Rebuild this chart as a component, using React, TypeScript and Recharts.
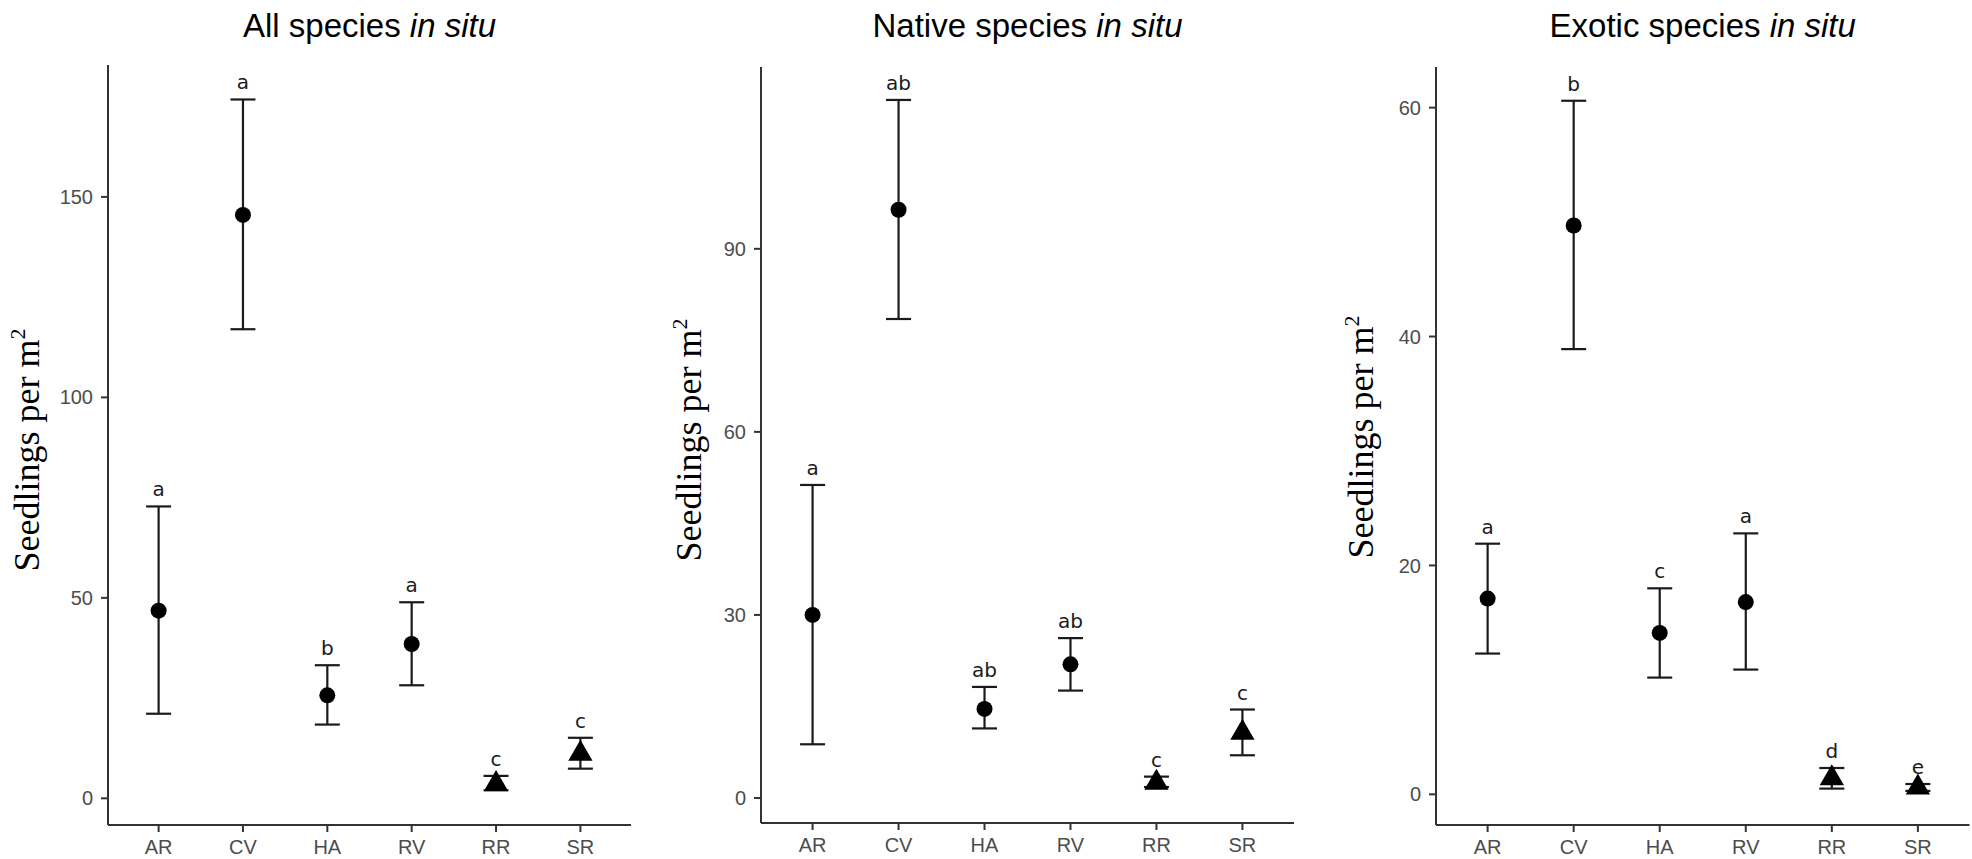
import { ScatterChart, Scatter, XAxis, YAxis, ErrorBar } from 'recharts';

const SITES = ['AR', 'CV', 'HA', 'RV', 'RR', 'SR'];
const TRIANGLE_SITES = ['RR', 'SR'];
const SITE_POS = [1, 2, 3, 4, 5, 6];

// All species
const ALL_MEAN = [46.8, 145.5, 25.7, 38.5, 3.6, 11.1];
const ALL_LOWER = [21.1, 117.0, 18.4, 28.2, 2.0, 7.4];
const ALL_UPPER = [72.8, 174.3, 33.2, 48.9, 5.6, 15.1];
const ALL_LETTERS = ['a', 'a', 'b', 'a', 'c', 'c'];
const ALL_TICKS = [0, 50, 100, 150];

// Native species
const NATIVE_MEAN = [30.0, 96.4, 14.6, 21.9, 2.5, 10.7];
const NATIVE_LOWER = [8.8, 78.5, 11.4, 17.6, 1.8, 7.0];
const NATIVE_UPPER = [51.3, 114.4, 18.2, 26.2, 3.5, 14.5];
const NATIVE_LETTERS = ['a', 'ab', 'ab', 'ab', 'c', 'c'];
const NATIVE_TICKS = [0, 30, 60, 90];

// Exotic species
const EXOTIC_MEAN = [17.1, 49.7, 14.1, 16.8, 1.4, 0.6];
const EXOTIC_LOWER = [12.3, 38.9, 10.2, 10.9, 0.5, 0.3];
const EXOTIC_UPPER = [21.9, 60.6, 18.0, 22.8, 2.3, 0.9];
const EXOTIC_LETTERS = ['a', 'b', 'c', 'a', 'd', 'e'];
const EXOTIC_TICKS = [0, 20, 40, 60];

const SANS = "'Liberation Sans', Arial, sans-serif";
const SERIF = "'Liberation Serif', 'Times New Roman', serif";
const INK = '#1a1a1a';

function buildRows(mean: number[], lower: number[], upper: number[], letters: string[]) {
    return SITES.map((site, i) => ({
        site,
        x: SITE_POS[i],
        mean: mean[i],
        upper: upper[i],
        err: [mean[i] - lower[i], upper[i] - mean[i]],
        letter: letters[i]
    }));
}

const panels = [
    {
        key: 'all',
        title: 'All species',
        rows: buildRows(ALL_MEAN, ALL_LOWER, ALL_UPPER, ALL_LETTERS),
        ticks: ALL_TICKS,
        domain: [-6.65, 182.9],
        left: 0, width: 640, yAxisWidth: 108, top: 65, xAxisHeight: 34, right: 9,
        labelX: 39, labelY: 450
    },
    {
        key: 'native',
        title: 'Native species',
        rows: buildRows(NATIVE_MEAN, NATIVE_LOWER, NATIVE_UPPER, NATIVE_LETTERS),
        ticks: NATIVE_TICKS,
        domain: [-4.1, 119.8],
        left: 660, width: 640, yAxisWidth: 101, top: 67, xAxisHeight: 36, right: 6,
        labelX: 701, labelY: 440
    },
    {
        key: 'exotic',
        title: 'Exotic species',
        rows: buildRows(EXOTIC_MEAN, EXOTIC_LOWER, EXOTIC_UPPER, EXOTIC_LETTERS),
        ticks: EXOTIC_TICKS,
        domain: [-2.68, 63.55],
        left: 1320, width: 652, yAxisWidth: 116, top: 67, xAxisHeight: 34, right: 2.5,
        labelX: 1373, labelY: 437
    }
];

function Marker(props: any) {
    const { cx, cy, payload } = props;
    if (TRIANGLE_SITES.includes(payload.site)) {
        const r = 14;
        const h = (r * Math.sqrt(3)) / 2;
        return <polygon points={`${cx},${cy - r} ${cx + h},${cy + r / 2} ${cx - h},${cy + r / 2}`} fill="#000" />;
    }
    return <circle cx={cx} cy={cy} r={8} fill="#000" />;
}

function Letter(props: any) {
    const { cx, cy, payload } = props;
    return (
        <text x={cx} y={cy - 10} textAnchor="middle" fontSize={20} fontFamily="'DejaVu Sans', sans-serif" fill={INK}>
            {payload.letter}
        </text>
    );
}

const axisStyle = {
    axisLine: { stroke: '#333', strokeWidth: 2 },
    tickLine: { stroke: '#333', strokeWidth: 2 },
    tick: { fill: '#4d4d4d', fontSize: 20, fontFamily: SANS },
    tickSize: 7,
    tickMargin: 8
};

export default function App() {
    return (
        <div style={{ position: 'absolute', left: 0, top: 0, width: 1972, height: 859, background: '#fff' }}>
            {panels.map(p => (
                <div key={p.key} style={{ position: 'absolute', left: p.left, top: 0 }}>
                    <ScatterChart
                        width={p.width}
                        height={859}
                        margin={{ top: p.top, right: p.right, bottom: 0, left: 0 }}
                    >
                        <XAxis
                            dataKey="x"
                            type="number"
                            domain={[0.4, 6.6]}
                            ticks={SITE_POS}
                            allowDataOverflow
                            interval={0}
                            height={p.xAxisHeight}
                            tickFormatter={(v: number) => SITES[v - 1]}
                            {...axisStyle}
                        />
                        <YAxis
                            type="number"
                            domain={p.domain}
                            ticks={p.ticks}
                            allowDataOverflow
                            interval={0}
                            width={p.yAxisWidth}
                            {...axisStyle}
                        />
                        <Scatter data={p.rows} dataKey="mean" shape={Marker} isAnimationActive={false}>
                            <ErrorBar dataKey="err" direction="y" width={12.5} stroke={INK} strokeWidth={2.2} />
                        </Scatter>
                        <Scatter data={p.rows} dataKey="upper" shape={Letter} isAnimationActive={false} />
                    </ScatterChart>
                </div>
            ))}
            <svg width={1972} height={859} style={{ position: 'absolute', left: 0, top: 0, pointerEvents: 'none' }}>
                {panels.map(p => {
                    const plotLeft = p.left + p.yAxisWidth;
                    const plotRight = p.left + p.width - p.right;
                    return (
                        <g key={p.key}>
                            <text x={(plotLeft + plotRight) / 2} y={37} textAnchor="middle" fontSize={33} fontFamily={SANS} fill="#000">
                                {p.title} <tspan fontStyle="italic">in situ</tspan>
                            </text>
                            <text
                                x={p.labelX}
                                y={p.labelY}
                                transform={`rotate(-90 ${p.labelX} ${p.labelY})`}
                                textAnchor="middle"
                                fontSize={36}
                                fontFamily={SERIF}
                                fill="#000"
                            >
                                Seedlings per m<tspan dy={-14} fontSize={22}>2</tspan>
                            </text>
                        </g>
                    );
                })}
            </svg>
        </div>
    );
}
